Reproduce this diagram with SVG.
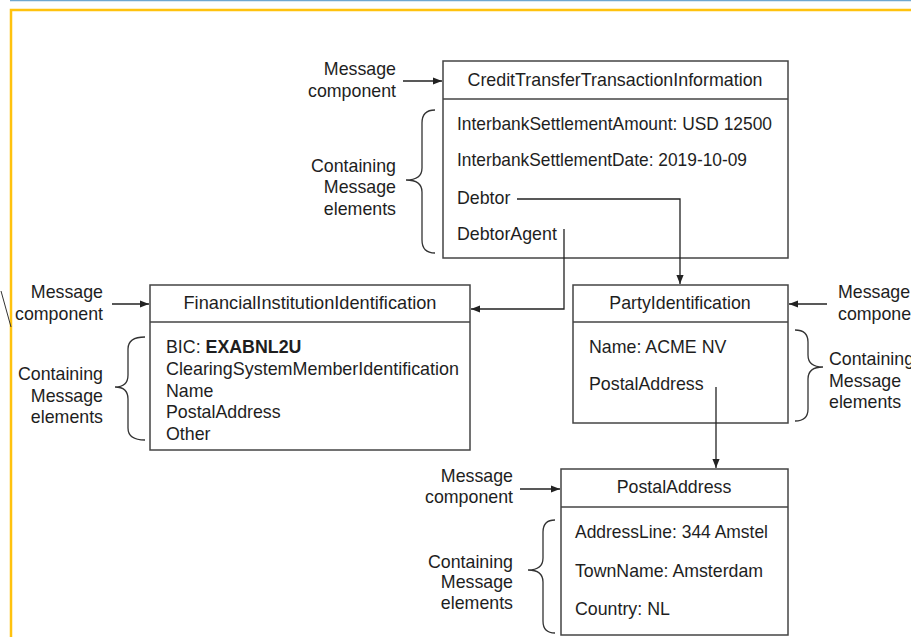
<svg xmlns="http://www.w3.org/2000/svg" width="911" height="637" viewBox="0 0 911 637">
<defs>
<marker id="ah" viewBox="0 0 10 10" refX="10" refY="5" markerWidth="9" markerHeight="9" markerUnits="userSpaceOnUse" orient="auto">
<path d="M0,1 L10,5 L0,9 Z" fill="#222"/>
</marker>
<style>
text{font-family:"Liberation Sans",Arial,sans-serif;font-size:17.8px;fill:#1e1e1e}
.box{fill:#fff;stroke:#444;stroke-width:1.5}
.div{stroke:#444;stroke-width:1.5}
.c{text-anchor:middle}
.r{text-anchor:end}
.ln{fill:none;stroke:#222;stroke-width:1.3}
.br{fill:none;stroke:#333;stroke-width:1.3}
</style>
</defs>
<rect width="911" height="637" fill="#fff"/>
<line x1="10" y1="0.5" x2="911" y2="0.5" stroke="#6fa8d0" stroke-width="1.5"/>
<path d="M11,637 L11,10 L911,10" fill="none" stroke="#ffc20e" stroke-width="2.5"/>
<line x1="1" y1="291" x2="11" y2="327" stroke="#333" stroke-width="1"/>

<g id="cti">
<rect class="box" x="443" y="61" width="345" height="197"/>
<line class="div" x1="443" y1="99" x2="788" y2="99"/>
<text class="c" x="615" y="86" textLength="295" lengthAdjust="spacingAndGlyphs">CreditTransferTransactionInformation</text>
<text x="457" y="130" textLength="315" lengthAdjust="spacingAndGlyphs">InterbankSettlementAmount: USD 12500</text>
<text x="457" y="166" textLength="290" lengthAdjust="spacingAndGlyphs">InterbankSettlementDate: 2019-10-09</text>
<text x="457" y="204">Debtor</text>
<text x="457" y="240">DebtorAgent</text>
<text class="r" x="396" y="75">Message</text>
<text class="r" x="396" y="97">component</text>
<text class="r" x="396" y="172">Containing</text>
<text class="r" x="396" y="193">Message</text>
<text class="r" x="396" y="215">elements</text>
<path class="br" d="M435,110 Q422,110 422,123 L422,168 Q422,180 406,180 Q422,180 422,192 L422,240 Q422,253 435,253"/>
</g>

<g id="fii">
<rect class="box" x="150" y="285" width="320" height="165"/>
<line class="div" x1="150" y1="322" x2="470" y2="322"/>
<text class="c" x="310" y="309" textLength="253" lengthAdjust="spacingAndGlyphs">FinancialInstitutionIdentification</text>
<text x="166" y="353">BIC: <tspan font-weight="bold">EXABNL2U</tspan></text>
<text x="166" y="375" textLength="293" lengthAdjust="spacingAndGlyphs">ClearingSystemMemberIdentification</text>
<text x="166" y="397">Name</text>
<text x="166" y="418">PostalAddress</text>
<text x="166" y="440">Other</text>
<text class="r" x="103" y="298">Message</text>
<text class="r" x="103" y="320">component</text>
<text class="r" x="103" y="380">Containing</text>
<text class="r" x="103" y="402">Message</text>
<text class="r" x="103" y="423">elements</text>
<path class="br" d="M145,337 Q128,337 128,349 L128,375 Q128,387 115,387 Q128,387 128,399 L128,428 Q128,440 145,440"/>
</g>

<g id="pi">
<rect class="box" x="573" y="285" width="215" height="138"/>
<line class="div" x1="573" y1="322" x2="788" y2="322"/>
<text class="c" x="680" y="309">PartyIdentification</text>
<text x="589" y="353">Name: ACME NV</text>
<text x="589" y="390">PostalAddress</text>
<text x="838" y="298">Message</text>
<text x="838" y="320">component</text>
<text x="829" y="365">Containing</text>
<text x="829" y="387">Message</text>
<text x="829" y="408">elements</text>
<path class="br" d="M795,330 Q808,330 808,342 L808,355 Q808,367 823,367 Q808,367 808,379 L808,409 Q808,421 795,421"/>
</g>

<g id="pa">
<rect class="box" x="561" y="469" width="227" height="166"/>
<line class="div" x1="561" y1="507" x2="788" y2="507"/>
<text class="c" x="674" y="493">PostalAddress</text>
<text x="575" y="538" textLength="193" lengthAdjust="spacingAndGlyphs">AddressLine: 344 Amstel</text>
<text x="575" y="577" textLength="188" lengthAdjust="spacingAndGlyphs">TownName: Amsterdam</text>
<text x="575" y="615">Country: NL</text>
<text class="r" x="513" y="482">Message</text>
<text class="r" x="513" y="503">component</text>
<text class="r" x="513" y="568">Containing</text>
<text class="r" x="513" y="588">Message</text>
<text class="r" x="513" y="609">elements</text>
<path class="br" d="M555,520 Q543,520 543,532 L543,558 Q543,570 528,570 Q543,570 543,582 L543,621 Q543,633 555,633"/>
</g>

<g id="connectors">
<path class="ln" d="M517,199 L680,199 L680,284" marker-end="url(#ah)"/>
<path class="ln" d="M564,229 L564,309 L471,309" marker-end="url(#ah)"/>
<path class="ln" d="M716,387 L716,468" marker-end="url(#ah)"/>
<path class="ln" d="M403,81 L442,81" marker-end="url(#ah)"/>
<path class="ln" d="M112,304 L149,304" marker-end="url(#ah)"/>
<path class="ln" d="M827,304 L789,304" marker-end="url(#ah)"/>
<path class="ln" d="M520,489 L560,489" marker-end="url(#ah)"/>
</g>
</svg>
